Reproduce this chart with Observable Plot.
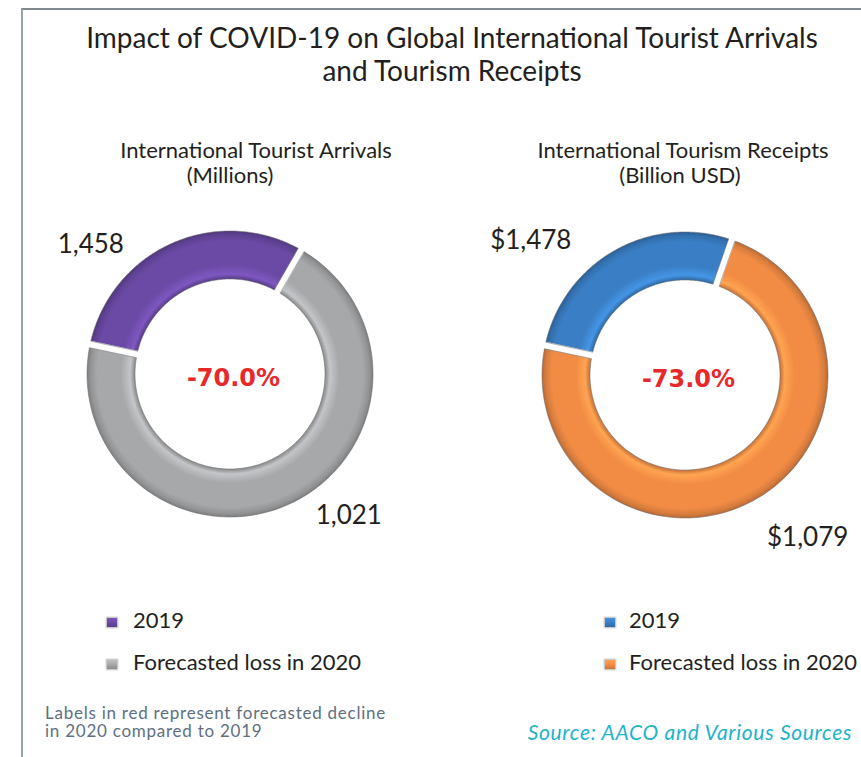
<!DOCTYPE html>
<html><head><meta charset="utf-8">
<script src="https://cdn.jsdelivr.net/npm/d3@7"></script>
<script src="https://cdn.jsdelivr.net/npm/@observablehq/plot@0.6"></script>
<style>
html,body{margin:0;padding:0;background:#fff;}
#wrap{position:relative;width:861px;height:757px;overflow:hidden;font-family:Lato,"Open Sans",sans-serif;color:#231f20;}
#chart{position:absolute;left:0;top:0;}
#frame{position:absolute;left:21px;top:8px;width:900px;height:800px;border-left:2px solid #97a1a6;border-top:2px solid #7f898e;}
.t{position:absolute;white-space:nowrap;}
.c{transform:translateX(-50%);text-align:center;}
.sw{position:absolute;width:10px;height:9px;box-shadow:0 0 1.5px 1px rgba(120,120,120,0.55);}
</style></head><body>
<div id="wrap"><div id="frame"></div><div id="chart"></div></div>
<script>
// ---------- data ----------
const chartTitle = ["Impact of COVID-19 on Global International Tourist Arrivals", "and Tourism Receipts"];
const donutTitles = [["International Tourist Arrivals", "(Millions)"], ["International Tourism Receipts", "(Billion USD)"]];
const sliceNames = ["2019", "Forecasted loss in 2020"];
const value2019 = [1458, 1478];
const forecastLoss = [1021, 1079];
const declinePct = [-70.0, -73.0];
const valuePrefix = ["", "$"];
const noteLines = ["Labels in red represent forecasted decline", "in 2020 compared to 2019"];
const sourceText = "Source: AACO and Various Sources";

// ---------- styles / layout ----------
const sliceColors = [["#6b4aa5", "#a6a8aa"], ["#3a7fc5", "#f28c45"]];
const layout = [
  {cx: 230, cy: 374, labelAngles: [-47, 140], labelDist: [191, 184]},
  {cx: 685, cy: 375, labelAngles: [-49, 143], labelDist: [205, 203]}
];
const R = 143, r = 95, gap = 7, N = 160, startDeg = -78;
const rad = Math.PI / 180;

// ---------- slices ----------
const slices = value2019.flatMap((v, i) => {
  const vals = [v - forecastLoss[i], forecastLoss[i]];
  const total = d3.sum(vals);
  let a = startDeg * rad;
  return vals.map((val, j) => {
    const a0 = a, a1 = a + val / total * 2 * Math.PI;
    a = a1;
    return {donut: i, slice: j, value: val, a0, a1};
  });
});
function ringPoints(s) {
  const L = layout[s.donut];
  const o0 = s.a0 + gap / (2 * R), o1 = s.a1 - gap / (2 * R);
  const i0 = s.a0 + gap / (2 * r), i1 = s.a1 - gap / (2 * r);
  return d3.range(N + 1).map(k => {
    const t = k / N, ao = o0 + (o1 - o0) * t, ai = i0 + (i1 - i0) * t;
    return {x1: L.cx + R * Math.sin(ao), y1: L.cy - R * Math.cos(ao),
            x2: L.cx + r * Math.sin(ai), y2: L.cy - r * Math.cos(ai)};
  });
}
const valueLabels = value2019.flatMap((v, i) => {
  const L = layout[i];
  const nums = [v, forecastLoss[i]];
  return nums.map((n, j) => ({
    x: L.cx + L.labelDist[j] * Math.sin(L.labelAngles[j] * rad),
    y: L.cy - L.labelDist[j] * Math.cos(L.labelAngles[j] * rad),
    text: valuePrefix[i] + d3.format(",")(n)
  }));
});
const centerLabels = declinePct.map((p, i) => ({x: layout[i].cx + 3, y: layout[i].cy + 4, text: p.toFixed(1) + "%"}));

const plot = Plot.plot({
  width: 861, height: 757, margin: 0,
  x: {domain: [0, 861], axis: null},
  y: {domain: [0, 757], range: [0, 757], axis: null},
  style: {background: "transparent", overflow: "visible"},
  marks: [
    ...slices.map(s => Plot.area(ringPoints(s), {
      x1: "x1", y1: "y1", x2: "x2", y2: "y2", curve: "linear",
      fill: `url(#g${s.donut}${s.slice})`, stroke: "#6f6f6f", strokeWidth: 1, strokeOpacity: 0.55
    })),
    Plot.text(valueLabels, {x: "x", y: "y", text: "text", fontSize: 26, fill: "#231f20", fontFamily: "Lato, sans-serif"}),
    Plot.text(centerLabels, {x: "x", y: "y", text: "text", fontSize: 24, fontWeight: "bold", fill: "#e8292b", fontFamily: "'DejaVu Sans', sans-serif"})
  ]
});
// radial bevel gradients
const xs = plot.scale("x"), ys = plot.scale("y");
const defs = d3.select(plot).insert("defs", ":first-child");
slices.forEach(s => {
  const L = layout[s.donut];
  const base = d3.color(sliceColors[s.donut][s.slice]);
  const g = defs.append("radialGradient").attr("id", `g${s.donut}${s.slice}`)
    .attr("gradientUnits", "userSpaceOnUse")
    .attr("cx", xs.apply(L.cx)).attr("cy", ys.apply(L.cy)).attr("r", R);
  const k = r / R;
  [[k, base.darker(0.6)], [k + 0.035, base.brighter(0.45)], [k + 0.1, base], [0.93, base], [0.975, base.darker(0.35)], [1, base.darker(0.8)]]
    .forEach(([o, c]) => g.append("stop").attr("offset", o).attr("stop-color", c.formatHex()));
});
document.getElementById("chart").appendChild(plot);

// ---------- html text ----------
const wrap = document.getElementById("wrap");
function addText(txt, css, cls) {
  const d = document.createElement("div");
  d.className = "t " + (cls || "");
  d.textContent = txt;
  d.style.cssText = css;
  wrap.appendChild(d);
  return d;
}
chartTitle.forEach((t, i) => addText(t, `left:452px;top:${20 + i * 33}px;font-size:28px;line-height:34px;`, "c"));
const subPos = [[[256, 137], [230, 162]], [[683, 137], [680, 162]]];
donutTitles.forEach((lines, i) => lines.forEach((t, j) =>
  addText(t, `left:${subPos[i][j][0]}px;top:${subPos[i][j][1]}px;font-size:22px;line-height:26px;`, "c")));
const legPos = [{ix: 107, tx: 133}, {ix: 605, tx: 629}];
const legY = [607, 649];
legPos.forEach((p, i) => sliceNames.forEach((name, j) => {
  addText(name, `left:${p.tx}px;top:${legY[j]}px;font-size:22px;line-height:26px;`);
  const c = d3.color(sliceColors[i][j]);
  const sw = document.createElement("div");
  sw.className = "sw";
  sw.style.left = p.ix + "px";
  sw.style.top = (legY[j] + 11) + "px";
  sw.style.background = `linear-gradient(180deg, ${c.brighter(0.4).formatHex()}, ${c.formatHex()} 50%, ${c.darker(0.5).formatHex()})`;
  wrap.appendChild(sw);
}));
const note = addText("", `left:45px;top:704px;font-size:17px;line-height:18px;letter-spacing:0.75px;color:#5e6f80;white-space:pre;`);
note.textContent = noteLines.join("\n");
addText(sourceText, `right:9px;top:720px;font-size:21px;line-height:24px;letter-spacing:0.7px;font-style:italic;color:#1db3c9;`);
</script>
</body></html>
